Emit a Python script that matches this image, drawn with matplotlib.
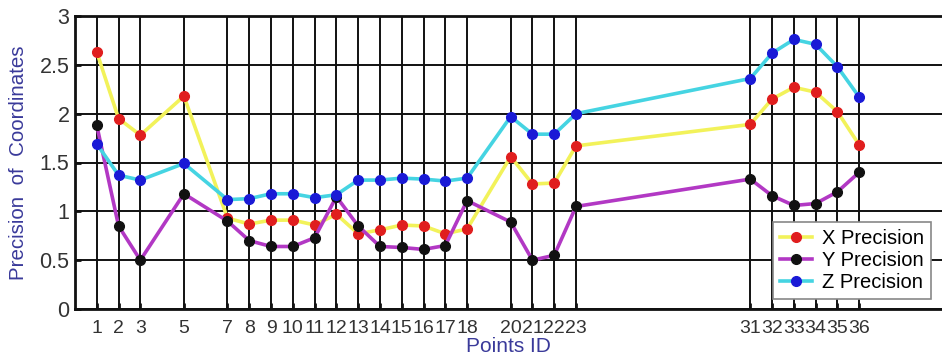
import matplotlib
matplotlib.use("Agg")
import matplotlib.pyplot as plt

plt.rcParams['font.family'] = ['Liberation Sans', 'DejaVu Sans']

point_ids = [1, 2, 3, 5, 7, 8, 9, 10, 11, 12, 13, 14, 15, 16, 17, 18,
             20, 21, 22, 23, 31, 32, 33, 34, 35, 36]

x_precision = [2.63, 1.95, 1.78, 2.18, 0.93, 0.87, 0.91, 0.91, 0.86, 0.97,
               0.77, 0.81, 0.86, 0.85, 0.77, 0.82,
               1.56, 1.28, 1.29, 1.67, 1.89, 2.15, 2.27, 2.22, 2.02, 1.68]
y_precision = [1.88, 0.85, 0.50, 1.18, 0.90, 0.70, 0.64, 0.64, 0.73, 1.15,
               0.85, 0.64, 0.63, 0.61, 0.65, 1.11,
               0.89, 0.50, 0.55, 1.05, 1.33, 1.16, 1.06, 1.08, 1.20, 1.40]
z_precision = [1.69, 1.37, 1.32, 1.49, 1.12, 1.13, 1.18, 1.18, 1.14, 1.17,
               1.32, 1.32, 1.34, 1.33, 1.31, 1.34,
               1.97, 1.79, 1.79, 2.00, 2.36, 2.62, 2.76, 2.71, 2.48, 2.17]

series_names = ["X Precision", "Y Precision", "Z Precision"]
line_colors = ["#f2f25a", "#b238c4", "#45d4e2"]
marker_colors = ["#e01e1e", "#111111", "#1a1ad6"]

fig = plt.figure(figsize=(9.42, 3.6), dpi=100)
ax = fig.add_axes([75 / 942, 51 / 360, 1 - 75 / 942, 293 / 360])

for vals, name, lc, mc in zip([x_precision, y_precision, z_precision],
                              series_names, line_colors, marker_colors):
    ax.plot(point_ids, vals, color=lc, lw=2.6, marker='o', ms=7,
            mfc=mc, mec=mc, label=name, zorder=3)

ax.set_xlim(0, 39.8)
ax.set_ylim(0, 3)
ax.set_xticks(point_ids)
ax.set_xticklabels([str(p) for p in point_ids])
ax.set_yticks([0, 0.5, 1, 1.5, 2, 2.5, 3])
ax.set_yticklabels(['0', '0.5', '1', '1.5', '2', '2.5', '3'])

ax.grid(True, color='#111111', lw=1.4, zorder=1)
ax.set_axisbelow(True)
ax.tick_params(direction='in', length=4, width=2, color='#111111',
               labelcolor='#333333')
ax.tick_params(axis='x', labelsize=14, pad=8)
ax.tick_params(axis='y', labelsize=15.5, pad=4)
for side in ['left', 'bottom', 'top']:
    ax.spines[side].set_linewidth(2)
    ax.spines[side].set_color('#111111')
ax.spines['right'].set_visible(False)

ax.set_xlabel('Points ID', fontsize=15, color='#3a3a9a', labelpad=0)
ax.set_ylabel('Precision  of  Coordinates', fontsize=14.8, color='#3a3a9a',
              labelpad=8)

leg = ax.legend(loc='lower right', fontsize=14.5, fancybox=False,
                framealpha=1, edgecolor='#888888', borderpad=0.35,
                labelspacing=0.15, handlelength=1.6, handletextpad=0.5,
                borderaxespad=0,
                bbox_to_anchor=((931 - 75) / 867, (309 - 299) / 293))
leg.get_frame().set_linewidth(1.2)

fig.savefig('out.png', dpi=100)
